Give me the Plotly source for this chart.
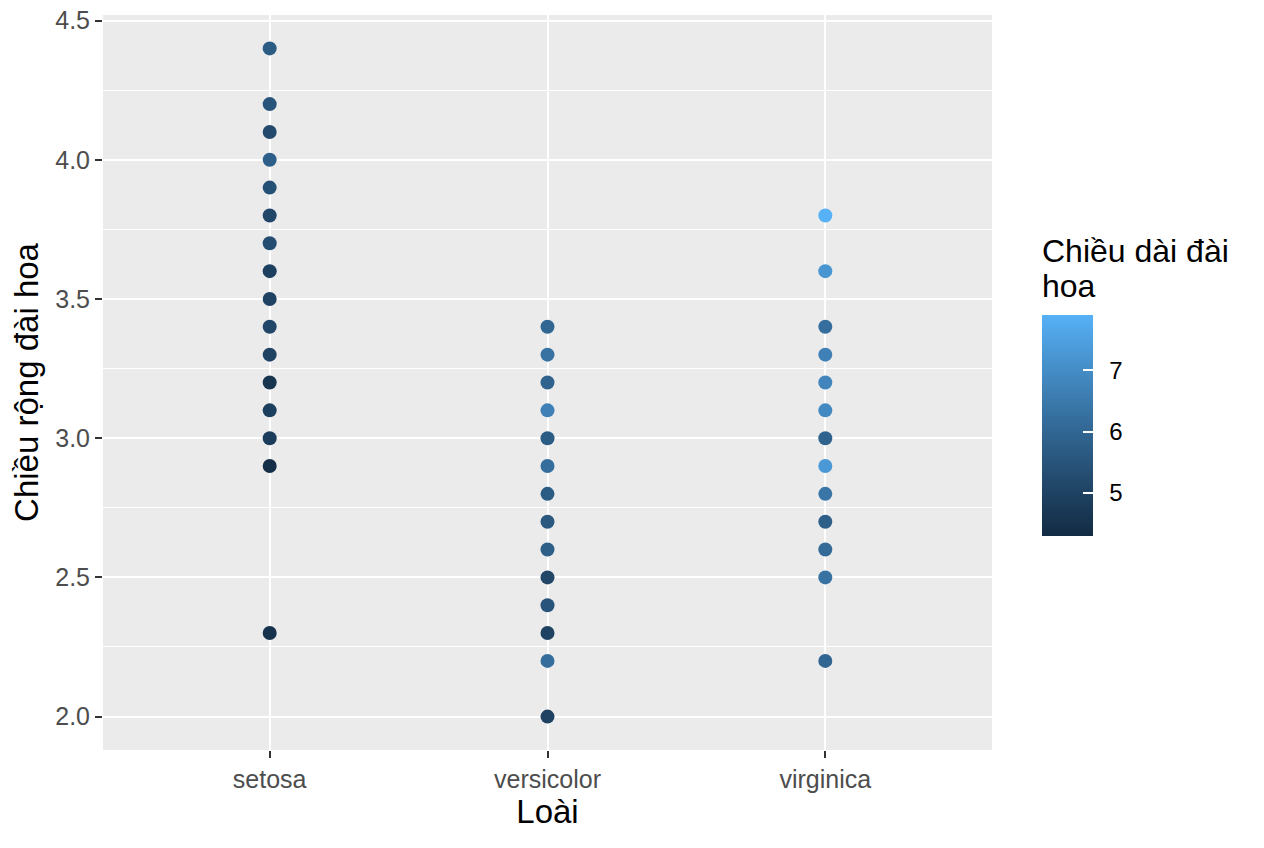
import plotly.graph_objects as go

# visible points (top-most point at each position)
setosa_width = [2.3, 2.9, 3.0, 3.1, 3.2, 3.3, 3.4, 3.5, 3.6, 3.7, 3.8, 3.9, 4.0, 4.1, 4.2, 4.4]
setosa_length = [4.5, 4.4, 4.8, 4.9, 4.6, 5.0, 5.1, 5.0, 4.9, 5.3, 5.1, 5.4, 5.8, 5.2, 5.5, 5.7]

versicolor_width = [2.0, 2.2, 2.3, 2.4, 2.5, 2.6, 2.7, 2.8, 2.9, 3.0, 3.1, 3.2, 3.3, 3.4]
versicolor_length = [5.0, 6.2, 5.0, 5.5, 5.1, 5.8, 5.6, 5.7, 6.2, 5.7, 6.7, 5.9, 6.3, 6.0]

virginica_width = [2.2, 2.5, 2.6, 2.7, 2.8, 2.9, 3.0, 3.1, 3.2, 3.3, 3.4, 3.6, 3.8]
virginica_length = [6.0, 6.3, 6.1, 5.8, 6.4, 7.3, 5.9, 6.9, 6.8, 6.7, 6.2, 7.2, 7.9]

species = ["setosa", "versicolor", "virginica"]
y_ticks = [2.0, 2.5, 3.0, 3.5, 4.0, 4.5]
cbar_ticks = [5, 6, 7]
len_min, len_max = 4.3, 7.9


def _to_lin(c):
    c = c / 255.0
    return c / 12.92 if c <= 0.04045 else ((c + 0.055) / 1.055) ** 2.4


def _to_srgb(c):
    c = 12.92 * c if c <= 0.0031308 else 1.055 * c ** (1 / 2.4) - 0.055
    return max(0, min(255, round(c * 255)))


def hex_to_lab(h):
    r, g, b = (_to_lin(int(h[i:i + 2], 16)) for i in (1, 3, 5))
    x = (0.4124 * r + 0.3576 * g + 0.1805 * b) / 0.95047
    y = 0.2126 * r + 0.7152 * g + 0.0722 * b
    z = (0.0193 * r + 0.1192 * g + 0.9505 * b) / 1.08883
    f = lambda t: t ** (1 / 3) if t > 0.008856 else 7.787 * t + 16 / 116
    fx, fy, fz = f(x), f(y), f(z)
    return 116 * fy - 16, 500 * (fx - fy), 200 * (fy - fz)


def lab_to_rgb(L, a, b):
    fy = (L + 16) / 116
    fx = fy + a / 500
    fz = fy - b / 200
    finv = lambda t: t ** 3 if t ** 3 > 0.008856 else (t - 16 / 116) / 7.787
    x, y, z = finv(fx) * 0.95047, finv(fy), finv(fz) * 1.08883
    r = 3.2406 * x - 1.5372 * y - 0.4986 * z
    g = -0.9689 * x + 1.8758 * y + 0.0415 * z
    bb = 0.0557 * x - 0.2040 * y + 1.0570 * z
    return "rgb(%d,%d,%d)" % (_to_srgb(r), _to_srgb(g), _to_srgb(bb))


# ggplot-like gradient, interpolated in Lab
low, high = hex_to_lab("#132B43"), hex_to_lab("#56B1F7")
n = 10
colorscale = []
for i in range(n + 1):
    t = i / n
    colorscale.append([t, lab_to_rgb(*[lo + (hi - lo) * t for lo, hi in zip(low, high)])])

xs = (["setosa"] * len(setosa_width) + ["versicolor"] * len(versicolor_width)
      + ["virginica"] * len(virginica_width))
ys = setosa_width + versicolor_width + virginica_width
cs = setosa_length + versicolor_length + virginica_length

font = "Liberation Sans, Arial, Helvetica, sans-serif"


def px_x(v):
    return (v - 103) / 889


def px_y(v):
    return (750 - v) / 735


cbar_common = dict(
    x=px_x(1042), xanchor="left", xpad=0,
    y=px_y(425.5), yanchor="middle", ypad=0,
    thickness=51, thicknessmode="pixels",
    len=221, lenmode="pixels",
    outlinewidth=0, tickvals=cbar_ticks,
)

fig = go.Figure()
# invisible copy: carries the colour bar labels
fig.add_trace(go.Scatter(
    x=xs, y=ys, mode="markers", hoverinfo="skip",
    marker=dict(
        size=14, color=cs, colorscale=colorscale, cmin=len_min, cmax=len_max,
        opacity=0,
        colorbar=dict(
            **cbar_common, ticks="outside", ticklen=12, tickcolor="rgba(0,0,0,0)",
            tickfont=dict(family=font, size=24, color="black"),
        ),
    ),
    showlegend=False,
))
fig.add_trace(go.Scatter(
    x=xs, y=ys, mode="markers",
    marker=dict(
        size=14, color=cs, colorscale=colorscale, cmin=len_min, cmax=len_max,
        line=dict(width=0),
        colorbar=dict(
            **cbar_common, ticks="inside", ticklen=10, tickcolor="white", tickwidth=1.5,
            showticklabels=False,
        ),
    ),
    showlegend=False,
))

fig.update_layout(
    width=1264, height=848,
    margin=dict(l=103, r=272, t=15, b=98, autoexpand=False),
    paper_bgcolor="white", plot_bgcolor="#EBEBEB",
    font=dict(family=font),
    xaxis=dict(
        type="category", categoryorder="array", categoryarray=species,
        range=[-0.6, 2.6], showgrid=True, gridcolor="white", gridwidth=2.2,
        zeroline=False, ticks="outside", ticklen=7, tickcolor="#333333", tickwidth=1.5,
        tickfont=dict(size=25, color="#4D4D4D"), automargin=False,
        title=dict(text="Loài", font=dict(size=33, color="black"), standoff=6),
    ),
    yaxis=dict(
        range=[1.88, 4.52], tickvals=y_ticks, ticktext=["%.1f" % v for v in y_ticks],
        showgrid=True, gridcolor="white", gridwidth=2.2, zeroline=False,
        ticks="outside", ticklen=7, tickcolor="#333333", tickwidth=1.5,
        tickfont=dict(size=25, color="#4D4D4D"), ticklabeloverflow="allow",
        automargin=False,
        minor=dict(dtick=0.25, tick0=2.0, showgrid=True, gridcolor="white", gridwidth=1.1),
        title=dict(text="Chiều rộng đài hoa", font=dict(size=33, color="black"), standoff=6),
    ),
    annotations=[
        dict(text="Chiều dài đài", xref="paper", yref="paper",
             x=px_x(1040), y=px_y(251), xanchor="left", yanchor="middle",
             showarrow=False, font=dict(family=font, size=32, color="black")),
        dict(text="hoa", xref="paper", yref="paper",
             x=px_x(1040), y=px_y(286), xanchor="left", yanchor="middle",
             showarrow=False, font=dict(family=font, size=32, color="black")),
    ],
)

# drop the browser's default 8px body margin so the figure fills the window
fig.write_html("out.html", config={"displayModeBar": False},
               post_script="document.body.style.margin='0';")
